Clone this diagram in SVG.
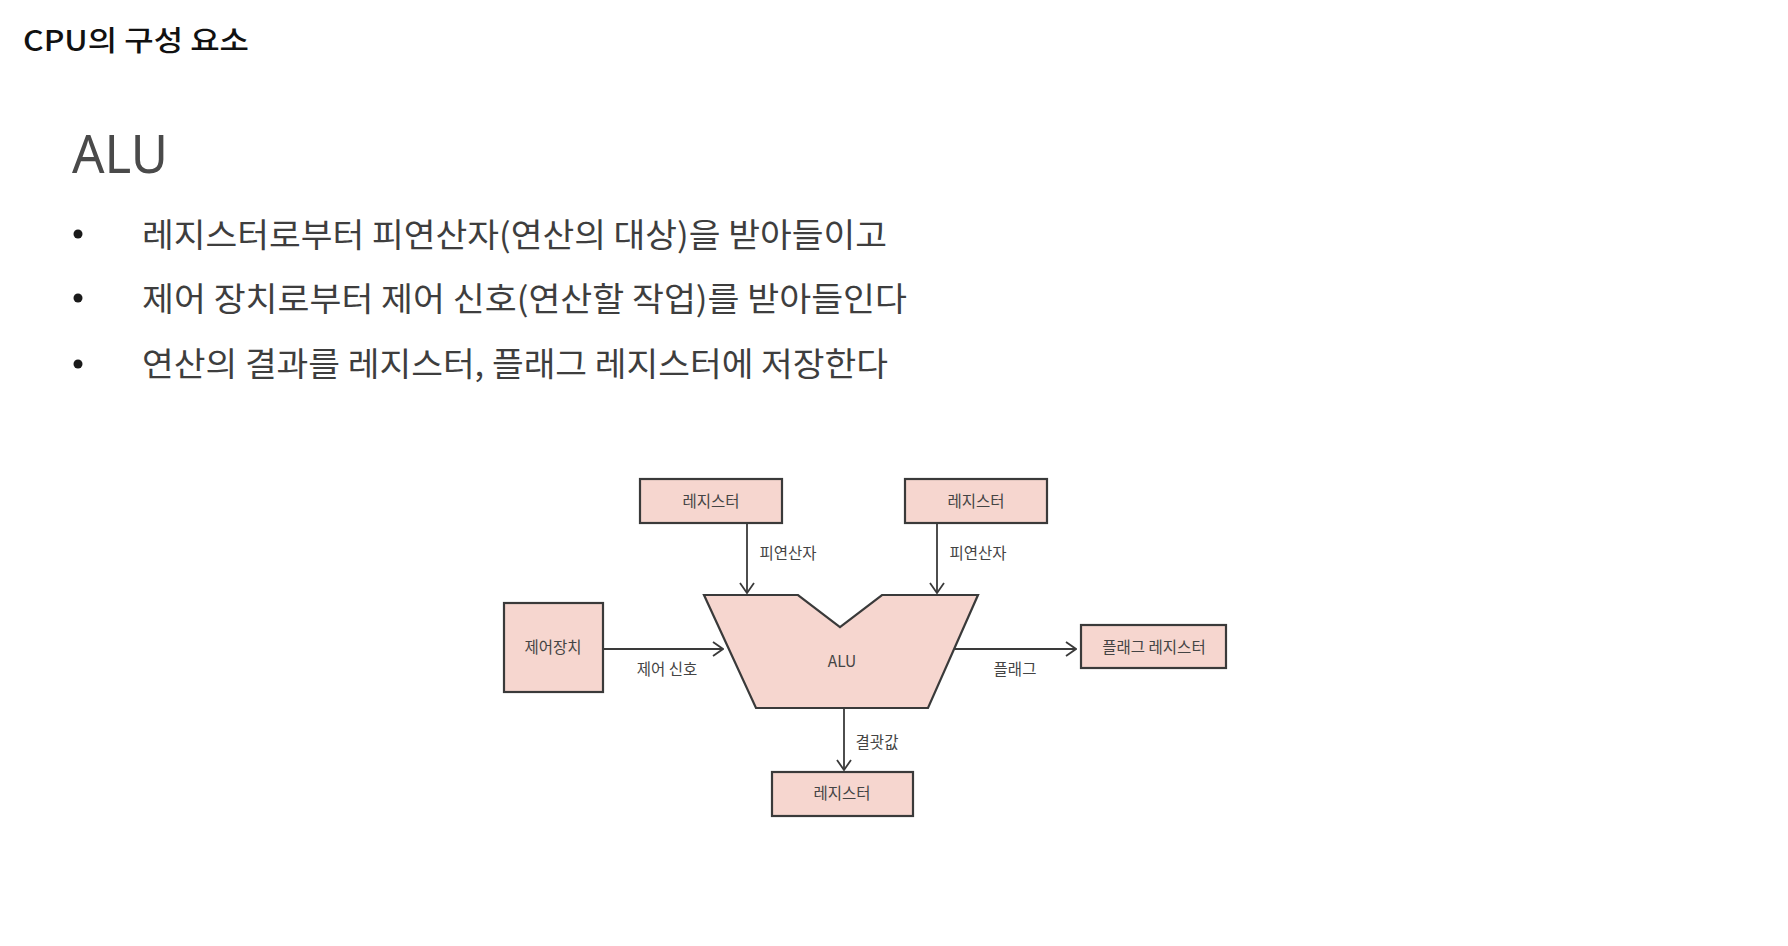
<svg xmlns="http://www.w3.org/2000/svg" width="1788" height="946" viewBox="0 0 1788 946">
<style>
.title{font-family:"Noto Sans CJK KR","Noto Sans",sans-serif;font-size:28px;font-weight:500;fill:#111;}
.head{font-family:"Noto Sans","Noto Sans CJK KR",sans-serif;font-size:53px;fill:#4a4a4a;}
.bul{font-family:"Noto Sans CJK KR",sans-serif;font-size:33px;fill:#3e3e3e;}
.dot{fill:#1a1a1a;}
.box{fill:#f6d6cf;stroke:#3a3a3a;stroke-width:2.2;}
.lbl{font-family:"Noto Sans CJK KR",sans-serif;font-size:15.5px;fill:#444;text-anchor:middle;}
.conn{fill:none;stroke:#3a3a3a;stroke-width:1.8;marker-end:url(#arr);}
</style>
<defs>
<marker id="arr" viewBox="0 0 12 16" refX="11" refY="8" markerWidth="12" markerHeight="16" markerUnits="userSpaceOnUse" orient="auto">
<path d="M1,1 L11,8 L1,15" fill="none" stroke="#3a3a3a" stroke-width="1.8"/>
</marker>
</defs>
<rect width="1788" height="946" fill="#ffffff"/>
<text class="title" x="23" y="51" textLength="226" lengthAdjust="spacingAndGlyphs">CPU의 구성 요소</text>
<text class="head" x="72" y="173" textLength="96" lengthAdjust="spacingAndGlyphs">ALU</text>
<circle class="dot" cx="78" cy="234" r="4.5"/>
<circle class="dot" cx="78" cy="298" r="4.5"/>
<circle class="dot" cx="78" cy="364" r="4.5"/>
<text class="bul" x="142" y="247" textLength="745" lengthAdjust="spacingAndGlyphs">레지스터로부터 피연산자(연산의 대상)을 받아들이고</text>
<text class="bul" x="142" y="311" textLength="765" lengthAdjust="spacingAndGlyphs">제어 장치로부터 제어 신호(연산할 작업)를 받아들인다</text>
<text class="bul" x="142" y="376" textLength="746" lengthAdjust="spacingAndGlyphs">연산의 결과를 레지스터, 플래그 레지스터에 저장한다</text>
<g id="connectors">
<line class="conn" x1="747" y1="524" x2="747" y2="593"/>
<line class="conn" x1="937" y1="524" x2="937" y2="593"/>
<line class="conn" x1="604" y1="649" x2="723" y2="649"/>
<line class="conn" x1="955" y1="649" x2="1076" y2="649"/>
<line class="conn" x1="844" y1="709" x2="844" y2="770"/>
<text class="lbl" x="788" y="559">피연산자</text>
<text class="lbl" x="978" y="559">피연산자</text>
<text class="lbl" x="667" y="675">제어 신호</text>
<text class="lbl" x="1015" y="675">플래그</text>
<text class="lbl" x="877" y="748">결괏값</text>
</g>
<g id="reg-top-left">
<rect class="box" x="640" y="479" width="142" height="44"/>
<text class="lbl" x="711" y="507">레지스터</text>
</g>
<g id="reg-top-right">
<rect class="box" x="905" y="479" width="142" height="44"/>
<text class="lbl" x="976" y="507">레지스터</text>
</g>
<g id="control-unit">
<rect class="box" x="504" y="603" width="99" height="89"/>
<text class="lbl" x="553" y="653">제어장치</text>
</g>
<g id="alu">
<polygon class="box" points="704,595 798,595 840,627 882,595 978,595 928,708 756,708"/>
<text class="lbl" x="842" y="667">ALU</text>
</g>
<g id="flag-register">
<rect class="box" x="1081" y="625" width="145" height="43"/>
<text class="lbl" x="1154" y="653">플래그 레지스터</text>
</g>
<g id="reg-bottom">
<rect class="box" x="772" y="772" width="141" height="44"/>
<text class="lbl" x="842" y="799">레지스터</text>
</g>
</svg>
